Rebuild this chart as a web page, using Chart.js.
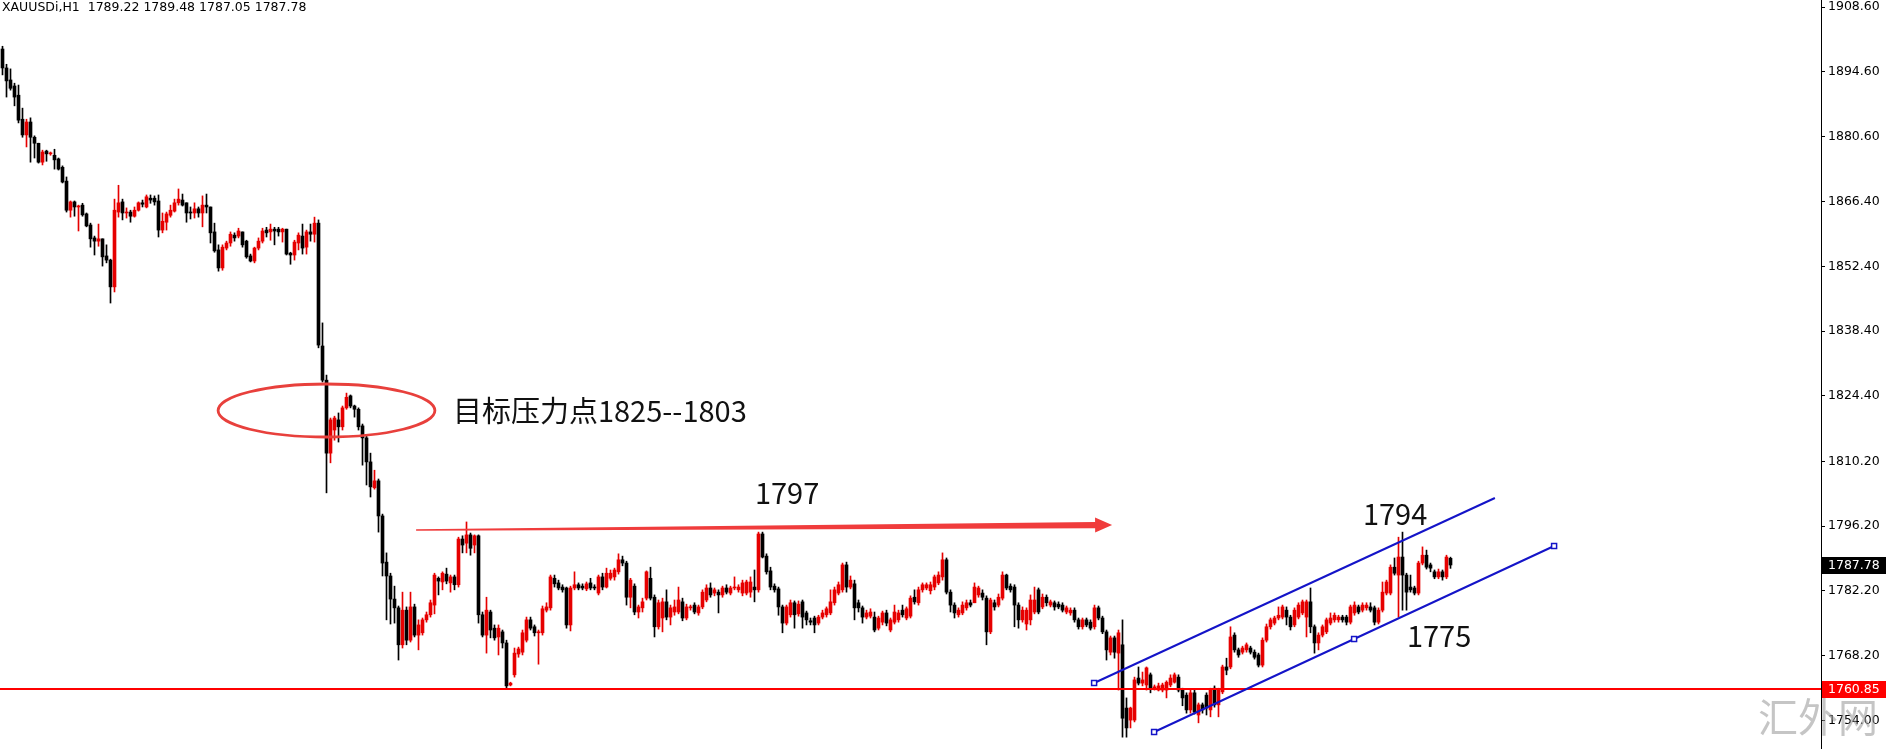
<!DOCTYPE html>
<html><head><meta charset="utf-8">
<script src="https://cdn.jsdelivr.net/npm/chart.js@4.4.0/dist/chart.umd.min.js"></script>
<style>html,body{margin:0;padding:0;background:#fff;overflow:hidden}#wrap{width:1886px;height:749px;position:relative}</style>
</head><body><div id="wrap"><canvas id="c" width="1886" height="749"></canvas></div>
<script>
const symbolLabel = 'XAUUSDi,H1';
const open = [
1899.5,1895.4,1892.8,1891.5,1889.5,1884.3,1880.9,1883.7,1880.4,1879.1,
1875.0,1877.4,1876.8,1876.5,1875.7,1873.9,1870.9,1864.6,1866.4,1865.3,
1865.7,1863.8,1861.4,1858.6,1857.9,1858.4,1854.7,1853.8,1848.0,1864.2,
1866.4,1864.0,1864.2,1863.3,1864.6,1866.2,1865.3,1867.2,1867.2,1866.6,
1860.3,1862.0,1863.5,1864.4,1866.2,1866.8,1866.2,1864.2,1864.0,1864.9,
1864.0,1865.7,1865.3,1859.9,1856.0,1852.1,1856.4,1857.5,1859.2,1859.0,
1859.9,1857.9,1854.7,1853.6,1856.4,1857.9,1860.3,1859.9,1860.5,1860.5,
1859.9,1860.5,1855.3,1854.9,1857.5,1859.0,1856.6,1859.9,1859.4,1861.8,
1835.2,1827.8,1812.0,1817.0,1819.2,1817.7,1821.8,1824.4,1822.2,1821.5,
1817.9,1815.3,1810.1,1804.5,1806.0,1798.4,1788.4,1785.4,1780.4,1778.5,
1770.5,1778.0,1771.5,1778.7,1772.6,1773.1,1775.9,1777.0,1779.1,1784.9,
1784.1,1785.8,1783.9,1785.2,1783.5,1793.4,1792.5,1794.3,1792.1,1794.1,
1777.0,1772.6,1777.6,1774.1,1772.2,1773.3,1770.9,1761.8,1764.0,1768.5,
1768.9,1771.5,1775.9,1774.4,1773.1,1773.1,1778.0,1778.5,1784.9,1783.9,
1783.0,1782.8,1774.8,1782.8,1783.5,1783.2,1782.6,1783.9,1783.0,1781.7,
1785.2,1783.0,1784.9,1785.2,1786.3,1788.9,1788.2,1780.8,1783.2,1777.6,
1778.5,1780.6,1784.9,1780.8,1774.4,1776.3,1779.8,1776.5,1777.6,1777.6,
1779.8,1776.3,1778.5,1779.1,1777.4,1778.7,1780.2,1782.8,1781.7,1781.9,
1781.3,1782.8,1781.7,1782.8,1782.4,1781.7,1781.7,1781.9,1783.0,1782.4,
1794.5,1789.7,1786.5,1783.2,1782.6,1778.7,1775.2,1777.0,1779.6,1777.2,
1779.8,1777.4,1775.7,1776.3,1775.2,1776.5,1777.0,1777.4,1779.6,1781.7,
1782.4,1787.8,1783.0,1783.7,1779.6,1778.5,1776.5,1776.7,1776.5,1774.1,
1775.4,1777.4,1773.7,1775.4,1775.9,1778.0,1776.3,1776.7,1780.8,1779.6,
1782.4,1782.8,1782.2,1783.0,1783.9,1785.2,1788.9,1781.9,1779.1,1777.0,
1777.4,1778.5,1779.6,1779.6,1781.3,1781.7,1780.6,1773.3,1779.6,1779.1,
1780.6,1785.6,1783.2,1783.0,1779.1,1775.9,1775.0,1775.9,1777.6,1782.4,
1778.7,1780.8,1779.1,1779.6,1779.3,1779.1,1777.6,1777.4,1778.0,1775.9,
1774.4,1775.9,1775.4,1774.4,1778.5,1776.3,1773.3,1768.9,1772.0,1768.7,
1770.5,1756.8,1754.2,1754.2,1763.3,1762.2,1761.8,1764.0,1761.1,1760.7,
1760.7,1760.7,1761.8,1762.4,1763.5,1760.7,1759.6,1756.4,1760.1,1755.3,
1757.5,1759.6,1756.4,1761.1,1757.5,1760.3,1765.7,1765.7,1772.6,1769.4,
1768.9,1769.4,1769.8,1768.9,1768.3,1766.1,1771.5,1774.4,1775.2,1776.3,
1776.5,1778.0,1776.5,1774.8,1776.5,1777.4,1776.5,1779.8,1774.4,1770.9,
1772.6,1773.3,1775.2,1775.9,1775.9,1776.5,1776.5,1775.4,1777.4,1778.7,
1778.0,1778.5,1778.7,1778.5,1775.4,1778.0,1781.7,1781.7,1787.3,1785.6,
1789.5,1785.6,1783.0,1782.8,1781.7,1788.2,1789.9,1787.8,1786.3,1785.2,
1786.3,1785.2,1789.22];
const high = [
1900.1,1896.2,1895.2,1892.1,1891.7,1886.7,1884.3,1884.6,1880.7,1879.1,
1877.6,1877.6,1877.2,1877.8,1875.9,1874.2,1871.8,1866.6,1866.6,1865.7,
1866.1,1864.0,1861.8,1859.0,1861.6,1858.4,1857.1,1854.0,1867.0,1870.0,
1867.0,1865.1,1864.6,1865.3,1866.4,1866.8,1867.9,1867.9,1867.7,1867.9,
1864.0,1864.2,1865.7,1867.0,1869.2,1868.1,1866.2,1865.3,1866.2,1865.3,
1867.7,1868.1,1865.3,1861.8,1857.1,1857.1,1857.9,1859.9,1859.7,1860.7,
1859.9,1858.1,1855.1,1856.6,1858.6,1860.7,1860.9,1861.6,1860.9,1860.9,
1860.7,1860.5,1855.5,1858.1,1859.7,1861.6,1860.3,1861.6,1863.1,1862.5,
1840.2,1828.9,1819.6,1820.0,1820.7,1822.2,1825.0,1824.6,1822.4,1821.8,
1818.3,1815.7,1812.0,1808.3,1806.4,1798.8,1790.4,1786.0,1783.2,1778.9,
1781.9,1778.7,1781.9,1779.3,1775.9,1776.3,1777.6,1780.2,1786.0,1785.2,
1786.3,1787.1,1785.6,1785.6,1793.8,1794.1,1797.1,1794.7,1794.3,1794.3,
1777.6,1780.8,1778.0,1774.8,1774.8,1773.7,1771.5,1762.4,1769.8,1770.0,
1773.7,1776.5,1776.5,1774.8,1773.7,1778.9,1779.6,1785.6,1785.6,1784.5,
1783.5,1783.0,1783.2,1786.3,1783.9,1783.7,1784.1,1784.9,1783.5,1785.6,
1786.0,1787.1,1786.7,1787.1,1790.2,1789.7,1788.6,1784.9,1783.7,1779.1,
1780.6,1786.5,1787.3,1781.3,1780.2,1780.6,1782.4,1779.1,1780.2,1783.0,
1780.6,1779.3,1779.1,1779.6,1779.1,1782.4,1783.5,1783.9,1782.8,1782.4,
1783.2,1783.5,1783.2,1785.2,1783.5,1784.5,1784.5,1785.2,1786.7,1794.9,
1794.9,1790.2,1787.3,1783.7,1783.0,1779.1,1779.1,1780.2,1780.0,1780.0,
1780.2,1777.8,1776.3,1776.7,1776.9,1778.0,1778.7,1782.4,1783.0,1784.1,
1788.2,1788.4,1785.4,1784.5,1780.2,1778.9,1778.0,1778.3,1777.6,1776.7,
1777.8,1778.0,1776.3,1779.1,1778.0,1779.1,1778.7,1781.1,1782.4,1783.0,
1783.9,1783.9,1784.1,1785.6,1786.3,1790.4,1789.3,1782.4,1779.6,1778.5,
1779.8,1780.2,1780.2,1783.9,1783.2,1782.4,1781.1,1780.6,1780.2,1781.5,
1786.3,1785.8,1783.7,1783.5,1779.6,1778.7,1778.5,1781.3,1783.0,1782.8,
1781.5,1781.3,1780.2,1780.0,1779.8,1779.6,1778.9,1778.5,1778.5,1776.3,
1776.3,1776.3,1775.9,1779.1,1778.9,1776.7,1773.7,1772.4,1772.4,1773.7,
1775.9,1759.0,1757.0,1763.5,1765.7,1764.6,1765.7,1764.4,1761.8,1762.2,
1762.2,1762.7,1764.0,1764.4,1764.0,1761.1,1760.1,1760.7,1760.7,1757.9,
1757.9,1760.1,1761.1,1761.6,1761.1,1766.1,1767.6,1774.4,1773.1,1769.8,
1770.2,1770.9,1770.2,1769.4,1768.7,1772.0,1775.0,1776.3,1776.7,1778.7,
1779.1,1778.7,1776.9,1778.5,1779.6,1780.2,1780.2,1782.8,1774.8,1773.1,
1774.8,1776.3,1777.4,1777.4,1776.9,1776.9,1776.9,1779.1,1779.8,1779.1,
1779.6,1779.6,1779.6,1778.9,1778.5,1784.1,1784.5,1787.8,1789.3,1793.8,
1794.9,1786.0,1785.6,1783.2,1788.6,1791.7,1791.0,1788.2,1786.7,1786.9,
1786.7,1789.9,1789.48];
const low = [
1893.9,1889.1,1890.6,1887.2,1883.5,1880.4,1878.3,1875.0,1875.9,1874.8,
1874.4,1875.2,1876.5,1873.5,1873.3,1870.5,1864.2,1863.1,1863.3,1860.1,
1863.3,1861.0,1856.6,1854.9,1856.8,1852.5,1853.2,1844.5,1846.9,1863.1,
1862.5,1862.9,1862.0,1863.1,1864.4,1865.3,1865.1,1866.1,1865.7,1858.8,
1859.7,1860.3,1863.1,1864.2,1865.7,1865.5,1862.0,1862.7,1862.9,1863.1,
1861.0,1864.0,1857.5,1855.5,1851.4,1851.6,1856.0,1856.8,1857.9,1858.6,
1856.6,1854.2,1853.4,1853.2,1856.0,1857.5,1858.8,1858.1,1857.1,1859.0,
1857.7,1854.9,1852.9,1853.8,1856.0,1855.1,1855.1,1857.9,1857.7,1834.8,
1827.4,1803.4,1809.9,1814.8,1814.4,1817.0,1821.5,1821.8,1819.8,1817.0,
1809.4,1805.1,1802.5,1804.2,1794.9,1785.4,1775.9,1775.0,1775.2,1767.2,
1769.8,1770.5,1771.1,1772.2,1769.4,1772.6,1775.4,1776.5,1777.2,1781.3,
1782.4,1783.7,1781.9,1782.4,1783.0,1790.4,1790.4,1789.9,1790.4,1775.2,
1772.2,1768.7,1772.0,1771.5,1768.3,1769.8,1761.1,1761.6,1763.5,1767.8,
1768.3,1771.1,1773.7,1772.4,1766.3,1772.6,1777.6,1778.0,1783.0,1782.4,
1781.9,1774.1,1773.5,1782.4,1782.4,1782.4,1782.2,1782.4,1782.4,1781.3,
1782.4,1782.8,1784.5,1784.5,1785.8,1787.6,1779.1,1778.5,1777.0,1776.3,
1777.6,1780.2,1780.2,1772.2,1773.9,1773.3,1775.9,1774.8,1776.9,1777.2,
1775.7,1775.9,1778.0,1777.2,1776.9,1778.3,1779.8,1780.8,1781.1,1777.4,
1780.8,1781.5,1781.3,1782.4,1781.9,1781.1,1781.3,1780.8,1779.8,1781.9,
1789.3,1785.8,1782.4,1781.9,1776.9,1773.1,1774.8,1776.5,1774.1,1776.7,
1774.1,1774.8,1774.8,1773.1,1774.8,1776.1,1776.5,1777.0,1779.1,1781.3,
1781.9,1781.9,1782.6,1775.9,1777.6,1775.2,1776.1,1776.3,1773.3,1773.7,
1774.8,1774.6,1773.3,1775.0,1775.4,1776.5,1775.9,1776.3,1779.3,1779.1,
1781.9,1782.4,1781.5,1782.4,1783.5,1784.5,1781.5,1777.6,1776.3,1776.5,
1777.0,1778.0,1778.7,1779.6,1780.8,1780.2,1770.5,1772.9,1778.0,1778.7,
1780.2,1782.4,1781.9,1774.4,1774.1,1775.4,1773.7,1774.8,1777.2,1777.2,
1778.3,1778.9,1778.7,1778.0,1778.3,1777.6,1777.2,1776.9,1775.4,1773.9,
1773.9,1774.4,1773.7,1773.9,1775.9,1772.9,1767.2,1768.3,1767.6,1760.7,
1750.5,1750.5,1752.5,1753.8,1761.8,1761.6,1760.7,1760.1,1760.7,1760.5,
1760.3,1759.0,1761.4,1762.2,1760.3,1757.3,1755.7,1755.7,1755.5,1753.6,
1755.7,1755.3,1754.9,1757.0,1754.9,1759.9,1764.0,1765.3,1768.9,1767.8,
1768.5,1768.9,1768.5,1767.4,1765.7,1765.7,1771.1,1773.9,1774.8,1775.9,
1776.1,1774.8,1773.7,1774.4,1776.1,1777.0,1772.2,1773.1,1768.7,1769.4,
1772.2,1772.9,1774.8,1775.4,1775.4,1775.4,1774.8,1775.0,1776.9,1777.2,
1777.6,1778.0,1777.6,1774.8,1775.0,1777.6,1781.3,1781.3,1785.6,1776.5,
1778.0,1778.0,1781.9,1781.3,1781.3,1787.8,1786.9,1786.3,1784.8,1784.8,
1784.5,1784.8,1787.05];
const close = [
1895.4,1892.6,1891.0,1889.1,1884.1,1880.9,1883.7,1880.4,1879.1,1875.0,
1877.2,1876.8,1877.0,1875.5,1873.5,1870.7,1864.6,1866.4,1865.3,1865.5,
1863.6,1861.2,1858.4,1857.9,1858.4,1854.5,1853.8,1848.0,1864.6,1866.2,
1864.0,1864.2,1863.3,1864.6,1866.2,1865.9,1867.5,1866.8,1866.4,1860.3,
1862.2,1863.8,1864.6,1866.2,1867.0,1865.7,1864.0,1864.0,1864.9,1864.0,
1865.7,1865.3,1859.7,1855.8,1852.1,1856.6,1857.5,1859.4,1858.6,1860.1,
1857.1,1854.5,1853.6,1856.4,1857.9,1860.1,1859.7,1860.5,1860.1,1859.9,
1860.5,1855.1,1854.9,1857.7,1859.2,1856.4,1859.9,1859.4,1861.8,1835.4,
1827.8,1812.0,1819.2,1819.6,1817.7,1821.8,1824.1,1822.2,1821.5,1817.7,
1815.3,1810.1,1804.7,1806.0,1798.4,1788.2,1785.4,1780.4,1778.5,1770.5,
1778.0,1771.5,1778.7,1772.6,1774.8,1775.9,1777.0,1779.6,1785.6,1784.3,
1786.0,1784.3,1785.2,1783.5,1793.4,1792.1,1794.3,1791.4,1794.1,1777.0,
1772.6,1778.0,1773.7,1772.0,1774.1,1770.9,1761.6,1762.2,1768.7,1769.6,
1773.1,1775.9,1774.1,1773.1,1773.3,1778.3,1778.7,1785.2,1783.7,1782.8,
1782.4,1774.8,1782.8,1783.5,1782.8,1782.8,1783.7,1782.8,1782.8,1785.2,
1783.0,1786.0,1786.0,1786.7,1788.9,1788.2,1780.8,1784.5,1777.6,1778.7,
1779.8,1786.3,1780.6,1774.4,1779.6,1779.8,1776.5,1778.5,1778.7,1780.2,
1776.3,1778.7,1778.7,1777.6,1778.7,1781.9,1782.8,1781.3,1782.4,1781.3,
1782.8,1781.9,1782.8,1783.0,1783.0,1783.9,1784.1,1784.1,1782.4,1794.5,
1789.5,1786.3,1783.0,1782.4,1778.7,1775.2,1778.7,1779.6,1777.0,1779.3,
1776.5,1775.9,1775.4,1774.8,1776.5,1777.4,1778.3,1779.8,1782.4,1783.5,
1787.8,1783.0,1784.5,1778.5,1778.5,1776.5,1777.4,1777.6,1773.7,1776.3,
1777.4,1775.2,1775.9,1777.6,1777.4,1777.0,1778.3,1780.6,1779.8,1782.4,
1783.5,1783.5,1783.5,1785.2,1785.6,1788.9,1781.9,1779.1,1777.4,1778.0,
1779.1,1779.6,1779.1,1783.0,1782.8,1780.8,1773.3,1780.2,1778.7,1780.8,
1785.6,1782.8,1782.4,1779.1,1775.9,1778.0,1778.0,1780.2,1780.2,1777.6,
1780.8,1779.6,1779.8,1778.7,1778.7,1778.0,1778.5,1778.0,1775.9,1774.4,
1775.9,1774.8,1774.1,1778.5,1776.3,1773.3,1769.4,1772.0,1768.9,1773.1,
1754.6,1752.5,1756.8,1762.9,1762.2,1762.9,1765.5,1761.1,1761.4,1761.6,
1761.8,1762.4,1763.3,1764.0,1760.7,1759.0,1756.4,1760.1,1755.9,1757.5,
1756.4,1756.8,1760.7,1757.5,1760.7,1765.7,1765.0,1772.2,1769.4,1768.3,
1769.8,1770.5,1768.9,1767.8,1766.1,1771.5,1774.4,1775.9,1776.3,1776.9,
1778.7,1776.5,1774.4,1778.0,1779.1,1779.8,1779.8,1774.4,1770.9,1772.6,
1774.4,1775.9,1776.3,1776.9,1776.5,1775.9,1775.4,1778.7,1779.1,1777.6,
1779.1,1779.1,1778.0,1775.4,1778.0,1781.9,1784.1,1787.3,1786.0,1789.5,
1785.6,1781.9,1782.4,1781.7,1788.2,1789.9,1787.3,1787.1,1785.2,1786.3,
1785.2,1789.5,1787.78];

const yTickValues = [1908.60,1894.60,1880.60,1866.40,1852.40,1838.40,1824.40,1810.20,1796.20,1782.20,1768.20,1754.00];
const supportLevel = 1760.85;
// annotation anchors in data units: [bar index, price]
const channelUpper = [[272.9,1762.23],[373.1,1802.28]];
const channelLower = [[287.9,1751.62],[337.9,1771.75],[387.9,1791.89]];
const channelHandles = [[272.9,1762.23],[287.9,1751.62],[337.9,1771.75],[387.9,1791.89]];
const arrowLine = [[103.4,1795.36],[277.4,1796.44]];
const zoneEllipse = [81.0,1821.23,27.1,5.74];
const noteTexts = ['目标压力点1825--1803','1797','1794','1775'];
const noteAnchors = [[112.6,1821.2],[188.1,1803.3],[340.1,1798.9],[351.1,1772.4]];
const watermark = '汇外网';

const N = open.length;
const idx = open.map((_, i) => i);
const RED = '#e60000', BLACK = '#000000';
const barColors = idx.map(i => close[i] > open[i] ? RED : BLACK);

const overlay = {
  id: 'overlay',
  afterDatasetsDraw(chart) {
    const {ctx, chartArea: a, scales: {x, y}} = chart;
    const P = (p) => [x.getPixelForValue(p[0]), y.getPixelForValue(p[1])];
    ctx.save();
    ctx.beginPath(); ctx.rect(a.left, a.top, a.right - a.left, a.bottom - a.top); ctx.clip();
    const ys = Math.round(y.getPixelForValue(supportLevel));
    ctx.fillStyle = '#ff0000';
    ctx.fillRect(a.left, ys - 1, a.right - a.left, 2);
    const cx = x.getPixelForValue(zoneEllipse[0]), cy = y.getPixelForValue(zoneEllipse[1]);
    const rx = x.getPixelForValue(zoneEllipse[0] + zoneEllipse[2]) - cx;
    const ry = cy - y.getPixelForValue(zoneEllipse[1] + zoneEllipse[3]);
    ctx.beginPath(); ctx.ellipse(cx, cy, rx, ry, 0, 0, Math.PI * 2);
    ctx.strokeStyle = '#e8403c'; ctx.lineWidth = 2.8; ctx.stroke();
    const [x0, y0] = P(arrowLine[0]); const [x1, y1] = P(arrowLine[1]);
    const len = Math.hypot(x1 - x0, y1 - y0), ux = (x1 - x0) / len, uy = (y1 - y0) / len;
    const nx = -uy, ny = ux, headL = 17, headW = 7.5, w0 = 0.8, w1 = 3.2;
    const bx = x1 - ux * headL, by = y1 - uy * headL;
    ctx.beginPath();
    ctx.moveTo(x0 + nx * w0, y0 + ny * w0);
    ctx.lineTo(bx + nx * w1, by + ny * w1);
    ctx.lineTo(bx + nx * headW, by + ny * headW);
    ctx.lineTo(x1, y1);
    ctx.lineTo(bx - nx * headW, by - ny * headW);
    ctx.lineTo(bx - nx * w1, by - ny * w1);
    ctx.lineTo(x0 - nx * w0, y0 - ny * w0);
    ctx.closePath();
    ctx.fillStyle = '#f03c3c'; ctx.fill();
    ctx.strokeStyle = '#1414c8'; ctx.lineWidth = 2;
    [channelUpper, channelLower].forEach(line => {
      ctx.beginPath();
      line.forEach((p, i) => { const [px, py] = P(p); i ? ctx.lineTo(px, py) : ctx.moveTo(px, py); });
      ctx.stroke();
    });
    ctx.lineWidth = 1.5;
    channelHandles.forEach(p => {
      const [px, py] = P(p);
      ctx.fillStyle = '#fff';
      ctx.fillRect(px - 2.5, py - 2.5, 5, 5);
      ctx.strokeRect(px - 2.5, py - 2.5, 5, 5);
    });
    ctx.fillStyle = '#111';
    ctx.textBaseline = 'middle'; ctx.textAlign = 'left';
    ctx.font = '29px "Noto Sans CJK SC"';
    noteTexts.forEach((t, i) => { const [px, py] = P(noteAnchors[i]); ctx.fillText(t, px, py); });
    ctx.restore();
  },
  afterDraw(chart) {
    const {ctx, chartArea: a, scales: {y}} = chart;
    ctx.save();
    ctx.font = '12.5px "DejaVu Sans"';
    ctx.textBaseline = 'middle'; ctx.textAlign = 'left';
    const tag = (v, bg) => {
      const py = Math.round(y.getPixelForValue(v));
      ctx.fillStyle = bg; ctx.fillRect(a.right + 1, py - 8, 64, 17);
      ctx.fillStyle = '#fff'; ctx.fillText(v.toFixed(2), a.right + 7, py + 1);
    };
    tag(close[N - 1], '#000');
    tag(supportLevel, '#ff0000');
    ctx.fillStyle = '#000'; ctx.textBaseline = 'top';
    ctx.font = '12.5px "DejaVu Sans"';
    const L = N - 1;
    ctx.fillText(symbolLabel + '  ' + [open[L], high[L], low[L], close[L]].map(v => v.toFixed(2)).join(' '), 2, 1);
    ctx.font = '40px "Noto Sans CJK SC"';
    ctx.fillStyle = 'rgba(150,150,150,0.55)';
    ctx.textBaseline = 'middle';
    ctx.fillText(watermark, 1758, 717);
    ctx.restore();
  }
};

new Chart(document.getElementById('c'), {
  type: 'bar',
  data: {
    datasets: [
      { label: 'wick', data: idx.map(i => ({x: i, y: [low[i], high[i]]})), backgroundColor: barColors,
        borderWidth: 0, barThickness: 1, grouped: false, order: 2 },
      { label: 'body', data: idx.map(i => ({x: i, y: [open[i], close[i]]})), backgroundColor: barColors,
        borderWidth: 0, barThickness: 3, minBarLength: 1, grouped: false, order: 1 }
    ]
  },
  options: {
    responsive: false, animation: false, devicePixelRatio: 1,
    layout: { padding: 0, autoPadding: false },
    plugins: { legend: { display: false }, tooltip: { enabled: false } },
    scales: {
      x: { type: 'linear', min: -0.625, max: 454.625, display: false, offset: false },
      y: {
        position: 'right', min: 1747.937, max: 1910.116,
        afterBuildTicks: s => { s.ticks = yTickValues.map(v => ({ value: v })); },
        afterFit: s => { s.width = 65; s.paddingTop = 0; s.paddingBottom = 0; },
        ticks: { autoSkip: false, color: '#000', font: { family: 'DejaVu Sans', size: 12.5 }, padding: 3,
                 callback: v => Number(v).toFixed(2) },
        grid: { drawOnChartArea: false, drawTicks: true, tickLength: 4, color: '#000' },
        border: { display: true, color: '#000', width: 1 }
      }
    }
  },
  plugins: [overlay]
});
</script></body></html>
